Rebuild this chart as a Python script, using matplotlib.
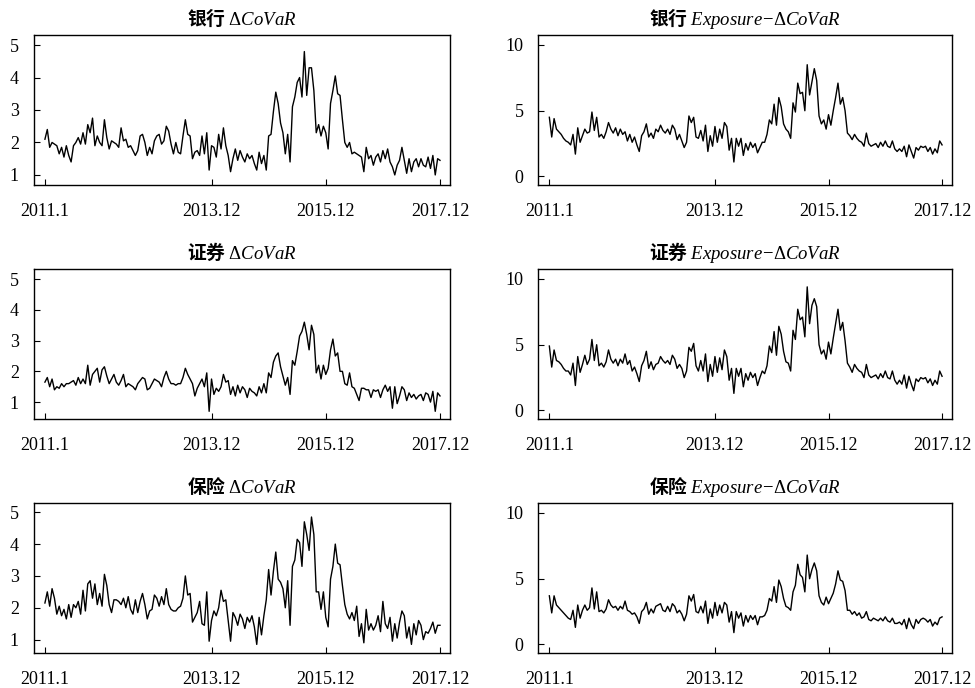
import numpy as np
import matplotlib
matplotlib.use('Agg')
import matplotlib.pyplot as plt

plt.rcParams['font.family'] = ['Liberation Serif', 'Noto Sans CJK SC']
plt.rcParams['mathtext.fontset'] = 'custom'
plt.rcParams['mathtext.rm'] = 'Liberation Serif'
plt.rcParams['mathtext.it'] = 'Liberation Serif:italic'

# semi-monthly readings, 2011.1 -> 2017.12
bank_covar = [
    2.1, 2.4, 1.85, 2.0, 1.95, 1.9, 1.65, 1.85, 1.55, 1.9,
    1.6, 1.4, 1.9, 2.0, 2.15, 1.95, 2.3, 1.95, 2.55, 2.3,
    2.75, 1.9, 2.2, 2.0, 1.9, 2.7, 2.15, 1.8, 2.05, 2.0,
    1.95, 1.85, 2.45, 2.05, 2.1, 1.85, 1.9, 1.75, 1.6, 1.75,
    2.2, 2.25, 2.0, 1.6, 1.85, 1.65, 2.05, 2.2, 2.25, 1.95,
    2.05, 2.5, 2.35, 1.95, 1.65, 2.0, 1.7, 1.65, 2.2, 2.7,
    2.25, 2.2, 1.5, 1.7, 1.75, 1.6, 2.2, 1.65, 2.3, 1.15,
    1.9, 1.85, 1.55, 2.25, 1.8, 2.45, 1.9, 1.6, 1.1, 1.5,
    1.8, 1.45, 1.75, 1.55, 1.4, 1.65, 1.5, 1.6, 1.35, 1.15,
    1.7, 1.35, 1.6, 1.15, 2.2, 2.25, 2.95, 3.55, 3.2, 2.6,
    2.3, 1.65, 2.25, 1.4, 3.1, 3.4, 3.85, 4.0, 3.4, 4.8,
    3.45, 4.3, 4.3, 3.6, 2.3, 2.55, 2.2, 2.5, 2.3, 1.8,
    3.2, 3.6, 4.05, 3.5, 3.45, 2.7, 2.0, 1.85, 2.0, 1.65,
    1.7, 1.65, 1.6, 1.55, 1.1, 1.85, 1.5, 1.6, 1.3, 1.55,
    1.65, 1.4, 1.75, 1.5, 1.8, 1.4, 1.25, 1.0, 1.3, 1.45,
    1.85, 1.45, 1.05, 1.5, 1.1, 1.4, 1.5, 1.25, 1.5, 1.3,
    1.25, 1.55, 1.2, 1.6, 1.0, 1.5, 1.45]

bank_exposure = [
    4.5, 3.0, 4.4, 3.6, 3.4, 3.2, 2.9, 2.7, 2.6, 2.4,
    3.2, 1.7, 3.7, 2.6, 3.1, 3.6, 3.3, 3.4, 4.9, 3.5,
    4.5, 3.0, 3.2, 2.9, 3.4, 4.1, 3.6, 3.3, 3.7, 3.1,
    3.6, 3.2, 3.4, 2.7, 3.2, 2.6, 3.0, 2.4, 1.9, 3.1,
    3.4, 4.0, 3.0, 3.3, 2.9, 3.6, 3.4, 3.9, 3.5, 3.3,
    3.6, 3.2, 3.9, 3.6, 2.8, 3.2, 2.7, 2.2, 2.6, 4.6,
    4.1, 4.5, 3.0, 2.9, 3.5, 2.7, 3.9, 1.9, 3.1, 2.3,
    3.8, 2.6, 3.6, 2.9, 4.1, 3.8, 2.0, 2.9, 1.1, 2.9,
    2.3, 2.9, 1.6, 2.5, 2.0, 2.6, 2.2, 2.5, 1.8, 2.2,
    2.6, 2.6, 3.2, 4.3, 4.0, 5.5, 3.9, 6.0, 5.3, 4.0,
    3.6, 3.4, 2.9, 5.6, 4.9, 7.1, 6.3, 6.4, 5.0, 8.5,
    6.2, 7.2, 8.2, 7.3, 4.6, 4.0, 4.3, 3.6, 4.7, 3.9,
    5.0, 6.0, 7.1, 5.5, 6.0, 5.0, 3.3, 3.1, 2.8, 3.2,
    2.9, 2.7, 2.6, 2.3, 3.3, 2.5, 2.3, 2.4, 2.5, 2.2,
    2.6, 2.3, 2.7, 2.3, 2.2, 2.7, 2.1, 1.9, 2.1, 1.9,
    2.3, 1.5, 2.4, 1.9, 1.4, 2.2, 2.0, 2.3, 2.2, 2.3,
    1.9, 2.2, 1.7, 2.1, 1.8, 2.7, 2.4]

sec_covar = [
    1.65, 1.8, 1.5, 1.75, 1.4, 1.5, 1.45, 1.6, 1.5, 1.6,
    1.6, 1.65, 1.7, 1.55, 1.8, 1.6, 1.75, 1.6, 2.2, 1.55,
    1.9, 2.0, 2.1, 1.65, 2.05, 2.15, 1.85, 1.6, 1.75, 1.9,
    1.65, 1.55, 1.7, 1.9, 1.5, 1.6, 1.55, 1.5, 1.4, 1.6,
    1.7, 1.8, 1.75, 1.4, 1.45, 1.6, 1.75, 1.7, 1.65, 1.5,
    1.8, 2.0, 1.75, 1.6, 1.6, 1.55, 1.6, 1.6, 1.8, 2.1,
    1.9, 1.75, 1.6, 1.2, 1.45, 1.6, 1.75, 1.5, 1.95, 0.7,
    1.75, 1.25, 1.45, 1.35, 1.5, 1.9, 1.65, 1.7, 1.25, 1.5,
    1.2, 1.55, 1.3, 1.5, 1.4, 1.15, 1.45, 1.35, 1.3, 1.2,
    1.5, 1.3, 1.6, 1.3, 1.95, 1.8, 2.3, 2.5, 2.6, 2.15,
    1.85, 1.55, 1.8, 1.25, 2.35, 2.2, 2.65, 3.15, 3.3, 3.6,
    3.2, 2.7, 3.5, 3.2, 1.95, 2.2, 1.75, 2.2, 1.9, 2.1,
    2.7, 3.05, 2.5, 2.6, 2.0, 2.0, 1.6, 1.55, 1.95, 1.5,
    1.45, 1.25, 1.05, 1.45, 1.45, 1.4, 1.4, 1.15, 1.4, 1.35,
    1.4, 1.15, 1.4, 1.55, 1.35, 1.5, 0.8, 1.5, 0.95, 1.2,
    1.5, 1.4, 1.05, 1.3, 1.15, 1.25, 1.1, 1.2, 1.25, 1.05,
    1.3, 1.25, 1.0, 1.35, 0.7, 1.3, 1.2]

sec_exposure = [
    4.9, 3.3, 4.6, 3.8, 3.7, 3.5, 3.2, 3.0, 3.0, 2.7,
    3.6, 1.9, 4.1, 2.9, 3.5, 4.2, 3.5, 3.9, 5.4, 3.8,
    5.0, 3.4, 3.6, 3.3, 3.7, 4.6, 3.9, 3.6, 3.9, 3.4,
    3.9, 3.6, 4.3, 3.5, 3.8, 3.0, 3.3, 2.8, 2.2, 3.4,
    3.8, 4.5, 3.2, 3.7, 3.1, 3.5, 3.6, 4.1, 3.8, 3.6,
    3.8, 3.5, 4.2, 3.9, 3.2, 3.5, 3.2, 2.5, 3.0, 4.8,
    4.5, 5.1, 3.4, 3.0, 3.8, 3.0, 4.3, 2.2, 3.5, 2.6,
    4.1, 2.9, 4.0, 3.1, 4.6, 4.1, 2.3, 3.2, 1.3, 3.2,
    2.6, 3.2, 1.8, 2.8, 2.3, 2.9, 2.5, 2.8, 1.9, 2.5,
    3.0, 2.8, 3.4, 4.9, 4.4, 6.0, 4.2, 6.4, 5.8, 4.5,
    3.7, 3.6, 3.0, 6.1, 5.4, 7.7, 6.9, 7.1, 5.6, 9.4,
    6.6, 8.0, 8.5, 7.9, 5.0, 4.3, 4.6, 3.9, 5.2, 4.3,
    5.5, 6.6, 7.7, 6.1, 6.7, 5.3, 3.6, 3.3, 2.9, 3.5,
    3.2, 3.0, 2.9, 2.5, 3.5, 2.7, 2.5, 2.6, 2.7, 2.4,
    2.8, 2.5, 3.0, 2.5, 2.4, 3.0, 2.3, 2.0, 2.3, 2.0,
    2.7, 1.7, 2.6, 2.0, 1.5, 2.4, 2.2, 2.5, 2.4, 2.5,
    2.1, 2.4, 1.9, 2.3, 2.0, 3.0, 2.6]

ins_covar = [
    2.15, 2.5, 2.05, 2.6, 2.3, 1.8, 2.05, 1.75, 1.95, 1.65,
    2.1, 1.7, 2.1, 2.0, 2.2, 1.8, 2.55, 1.9, 2.75, 2.85,
    2.3, 2.75, 2.1, 2.45, 2.05, 3.05, 2.7, 2.1, 1.85, 2.25,
    2.25, 2.2, 2.1, 2.3, 2.0, 2.35, 1.95, 1.8, 2.25, 1.85,
    2.2, 2.45, 2.1, 1.65, 1.9, 1.95, 2.4, 2.3, 2.05, 2.35,
    2.1, 2.6, 2.1, 1.95, 1.9, 1.9, 2.0, 2.05, 2.3, 3.0,
    2.4, 2.45, 1.55, 1.7, 1.85, 2.2, 1.5, 1.45, 2.5, 0.95,
    1.6, 1.9, 1.75, 2.0, 2.55, 2.2, 2.25, 1.6, 0.95, 1.85,
    1.7, 1.45, 1.8, 1.65, 1.35, 1.7, 1.55, 1.75, 1.4, 0.85,
    1.7, 1.15, 1.75, 2.25, 3.2, 2.4, 3.15, 3.75, 2.9, 2.8,
    2.6, 2.0, 2.85, 1.45, 3.3, 3.5, 4.15, 4.05, 3.3, 4.7,
    4.3, 3.8, 4.85, 4.3, 2.5, 2.5, 1.95, 2.5, 1.7, 1.4,
    2.9, 3.3, 4.0, 3.4, 3.35, 2.7, 2.1, 1.8, 1.65, 1.85,
    1.6, 2.05, 1.1, 1.5, 0.9, 1.95, 1.3, 1.5, 1.3, 1.45,
    1.75, 1.25, 2.2, 1.5, 1.35, 1.7, 0.95, 1.5, 1.05, 1.55,
    1.9, 1.75, 1.05, 1.4, 0.85, 1.5, 1.15, 1.6, 1.45, 1.0,
    1.25, 1.2, 1.35, 1.55, 1.2, 1.45, 1.45]

ins_exposure = [
    3.7, 2.4, 3.7, 3.0, 2.8, 2.6, 2.4, 2.2, 2.0, 1.9,
    2.6, 1.3, 3.0, 2.0, 2.6, 3.0, 2.6, 2.8, 4.3, 2.7,
    4.0, 2.5, 2.6, 2.4, 2.7, 3.4, 3.0, 2.8, 2.9, 2.6,
    2.9, 2.7, 3.3, 2.6, 2.5, 2.3, 2.4, 2.1, 1.6, 2.5,
    2.7, 3.2, 2.3, 2.7, 2.4, 2.9, 3.0, 3.1, 2.6, 2.5,
    2.9, 2.5, 3.1, 2.9, 2.4, 2.6, 2.3, 1.8, 2.3, 3.7,
    3.3, 3.8, 2.5, 2.4, 2.9, 2.4, 3.3, 1.6, 2.7, 2.0,
    3.2, 2.2, 3.0, 2.4, 3.2, 3.0, 1.7, 2.5, 0.9, 2.5,
    2.0, 2.4, 1.4, 2.2, 1.7, 2.2, 1.9, 2.2, 1.5, 2.1,
    2.1, 2.2, 2.6, 3.5, 3.3, 4.4, 3.2, 4.9, 4.4, 3.5,
    2.9, 2.8, 2.6, 4.0, 4.5, 6.1, 5.3, 5.1, 4.0, 6.8,
    5.0, 5.7, 6.2, 5.6, 3.7, 3.2, 3.0, 3.6, 3.1, 3.5,
    3.9, 4.6, 5.6, 4.9, 4.8, 4.1, 2.6, 2.6, 2.3, 2.5,
    2.2, 2.4, 2.0, 2.1, 2.5, 1.9, 1.8, 2.0, 1.9, 1.8,
    2.0, 1.8, 2.1, 1.8, 1.7, 2.0, 1.6, 1.6, 1.7, 1.5,
    1.9, 1.2, 2.0, 1.5, 1.2, 1.9, 1.6, 1.9, 2.0, 1.9,
    1.7, 1.9, 1.4, 1.7, 1.5, 2.0, 2.1]

sectors = ['银行', '证券', '保险']
tick_months = [0, 35, 59, 83]
tick_labels = ['2011.1', '2013.12', '2015.12', '2017.12']

covar_list = [bank_covar, sec_covar, ins_covar]
exposure_list = [bank_exposure, sec_exposure, ins_exposure]
covar_ylims = [(0.69, 5.31), (0.45, 5.33), (0.58, 5.29)]

W, H = 975, 688
fig = plt.figure(figsize=(W / 100, H / 100), dpi=100)

col_left = [33.5, 538]
col_right = [450, 952]
row_top = [35, 269, 503]
ax_h = 150


def style_axis(ax):
    ax.set_xlim(-2.4, 85.1)
    ax.set_xticks(tick_months)
    ax.set_xticklabels(tick_labels)
    ax.tick_params(direction='in', length=4, width=0.8, labelsize=13,
                   top=False, right=False)
    ax.tick_params(axis='x', pad=13)
    ax.tick_params(axis='y', pad=10.5)
    for s in ax.spines.values():
        s.set_linewidth(1.0)


for r in range(3):
    y0 = 1 - (row_top[r] + ax_h) / H
    for c in range(2):
        x0 = col_left[c] / W
        w = (col_right[c] - col_left[c]) / W
        ax = fig.add_axes([x0, y0, w, ax_h / H])
        if c == 0:
            vals = np.array(covar_list[r])
            title = sectors[r] + r' $\Delta CoVaR$'
        else:
            vals = np.array(exposure_list[r])
            title = sectors[r] + r' $Exposure\!-\!\Delta CoVaR$'
        months = np.arange(len(vals)) / 2.0
        ax.plot(months, vals, color='black', linewidth=1.0)
        style_axis(ax)
        if c == 0:
            ax.set_ylim(*covar_ylims[r])
            ax.set_yticks([1, 2, 3, 4, 5])
        else:
            ax.set_ylim(-0.65, 10.76)
            ax.set_yticks([0, 5, 10])
        ax.set_title(title, fontsize=13.5, fontweight='bold', pad=7,
                     family=['Noto Sans CJK SC', 'Liberation Serif'])

fig.savefig('out.png', dpi=100)
